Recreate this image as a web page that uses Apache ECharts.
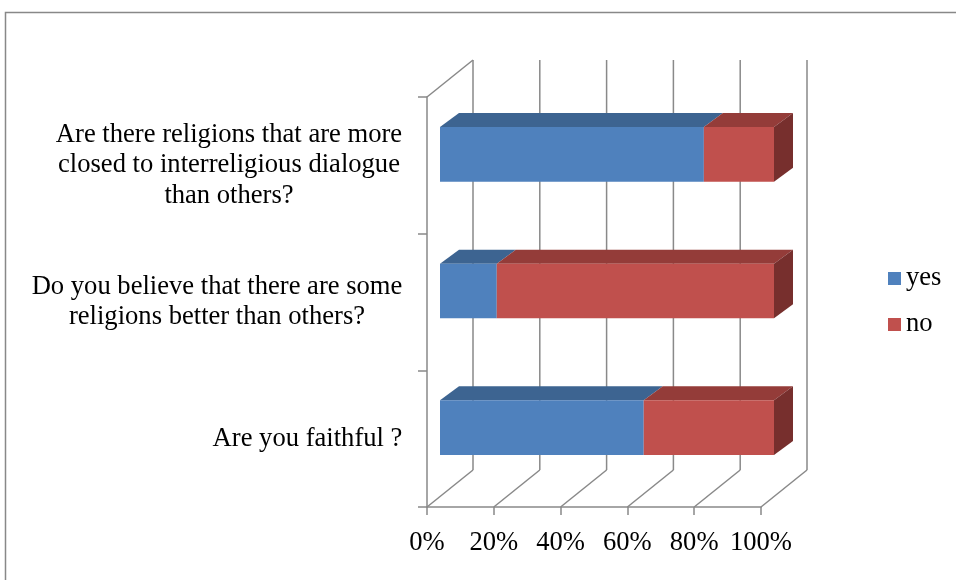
<!DOCTYPE html>
<html><head><meta charset="utf-8">
<script src="https://cdn.jsdelivr.net/npm/echarts@6/dist/echarts.min.js"></script>
<style>html,body{margin:0;padding:0;background:#fff}#c{width:956px;height:580px}</style>
</head><body><div id="c"></div>
<script>
// ---- data (bottom to top, as the category axis lists them) ----
var categories = [
  'Are you faithful ?',
  'Do you believe that there are some\nreligions better than others?',
  'Are there religions that are more\nclosed to interreligious dialogue\nthan others?'
];
var yesValues = [61, 17, 79];
var noValues  = [39, 83, 21];
var xTicks = [0, 20, 40, 60, 80, 100];
var seriesNames = ['yes', 'no'];

// ---- style / projection ----
var FONT = '"Liberation Serif","Times New Roman",serif';
var FS = 26.6;
var WALL = [46, -37];   // depth of the chart box
var FRONT = [13, -11];  // bar front face offset from the front plane
var DEPTH = [19, -14];  // bar depth
var BAR_FRAC = 0.4;
var GRID_COLOR = '#898989';
var COLORS = {
  yes: { front: '#4F81BD', top: '#3D6491', side: '#2F4F74' },
  no:  { front: '#C0504D', top: '#943C39', side: '#772F2D' }
};

// centre each line of a category label inside a block
var ctx = document.createElement('canvas').getContext('2d');
ctx.font = FS + 'px ' + FONT;
var rich = {};
categories.forEach(function (c, i) {
  var w = Math.max.apply(null, c.split('\n').map(function (l) { return ctx.measureText(l).width; }));
  rich['c' + i] = { width: Math.ceil(w) + 1, align: 'center', fontSize: FS, fontFamily: FONT, color: '#000', lineHeight: 30.5 };
});

function makeBar(cs) {
  return function (params, api) {
    var cat = api.value(0), s = api.value(1), e = api.value(2);
    var a = api.coord([s, cat]), b = api.coord([e, cat]);
    var h = api.size([0, 1])[1] * BAR_FRAC;
    var x0 = a[0] + FRONT[0], x1 = b[0] + FRONT[0], yc = a[1] + FRONT[1];
    var yt = yc - h / 2, yb = yc + h / 2;
    var dx = DEPTH[0], dy = DEPTH[1];
    var ch = [
      { type: 'polygon', shape: { points: [[x0, yt], [x1, yt], [x1 + dx, yt + dy], [x0 + dx, yt + dy]] }, style: { fill: cs.top } }
    ];
    if (e >= 100) {
      ch.push({ type: 'polygon', shape: { points: [[x1, yt], [x1 + dx, yt + dy], [x1 + dx, yb + dy], [x1, yb]] }, style: { fill: cs.side } });
    }
    ch.push({ type: 'rect', shape: { x: x0, y: yt, width: x1 - x0, height: yb - yt }, style: { fill: cs.front } });
    return { type: 'group', children: ch };
  };
}

function renderGrid(params, api) {
  var v = api.value(0);
  var p = api.coord([v, 0]);
  var cs = params.coordSys;
  var x = p[0], top = cs.y, bottom = cs.y + cs.height;
  var st = { stroke: GRID_COLOR, lineWidth: 1.5 };
  var ch = [
    { type: 'line', shape: { x1: x + WALL[0], y1: top + WALL[1], x2: x + WALL[0], y2: bottom + WALL[1] }, style: st },
    { type: 'line', shape: { x1: x, y1: bottom, x2: x + WALL[0], y2: bottom + WALL[1] }, style: st }
  ];
  if (params.dataIndex === 0) {
    ch.push({ type: 'line', shape: { x1: x, y1: top, x2: x + WALL[0], y2: top + WALL[1] }, style: st });
  }
  return { type: 'group', children: ch };
}

var yesData = categories.map(function (c, i) { return [i, 0, yesValues[i]]; });
var noData = categories.map(function (c, i) { return [i, yesValues[i], yesValues[i] + noValues[i]]; });

var chart = echarts.init(document.getElementById('c'));
chart.setOption({
  animation: false,
  backgroundColor: '#fff',
  graphic: [{
    type: 'rect', silent: true, z: -10,
    shape: { x: 5.5, y: 12.5, width: 1200, height: 1200 },
    style: { fill: 'none', stroke: '#888', lineWidth: 1.5 }
  }],
  grid: { left: 427, top: 97, width: 334, height: 410 },
  legend: {
    orient: 'vertical', left: 888, top: 265, padding: 0,
    itemWidth: 13, itemHeight: 13, itemGap: 19, icon: 'rect',
    textStyle: { fontSize: FS, fontFamily: FONT, color: '#000', lineHeight: 26 },
    data: seriesNames
  },
  xAxis: {
    type: 'value', min: 0, max: 100, interval: 20,
    axisLine: { show: true, lineStyle: { color: GRID_COLOR, width: 1.5 } },
    axisTick: { show: true, length: 8, lineStyle: { color: GRID_COLOR, width: 1.5 } },
    splitLine: { show: false },
    axisLabel: { formatter: '{value}%', fontSize: FS, fontFamily: FONT, color: '#000', margin: 23 }
  },
  yAxis: {
    type: 'category', data: categories, boundaryGap: true,
    axisLine: { show: true, lineStyle: { color: GRID_COLOR, width: 1.5 } },
    axisTick: { show: true, length: 9, lineStyle: { color: GRID_COLOR, width: 1.5 } },
    splitLine: { show: false },
    axisLabel: {
      margin: 24, fontSize: FS, fontFamily: FONT, color: '#000', lineHeight: 30.5,
      formatter: function (val, idx) {
        return val.split('\n').map(function (l) { return '{c' + idx + '|' + l + '}'; }).join('\n');
      },
      rich: rich
    }
  },
  series: [
    { type: 'custom', name: 'gridlines', silent: true, z: 1, encode: { x: 0 }, data: xTicks.map(function (v) { return [v]; }), renderItem: renderGrid },
    { type: 'custom', name: seriesNames[0], z: 2, itemStyle: { color: COLORS.yes.front }, encode: { x: [1, 2], y: 0 }, data: yesData, renderItem: makeBar(COLORS.yes) },
    { type: 'custom', name: seriesNames[1], z: 2, itemStyle: { color: COLORS.no.front }, encode: { x: [1, 2], y: 0 }, data: noData, renderItem: makeBar(COLORS.no) }
  ]
});
</script>
</body></html>
